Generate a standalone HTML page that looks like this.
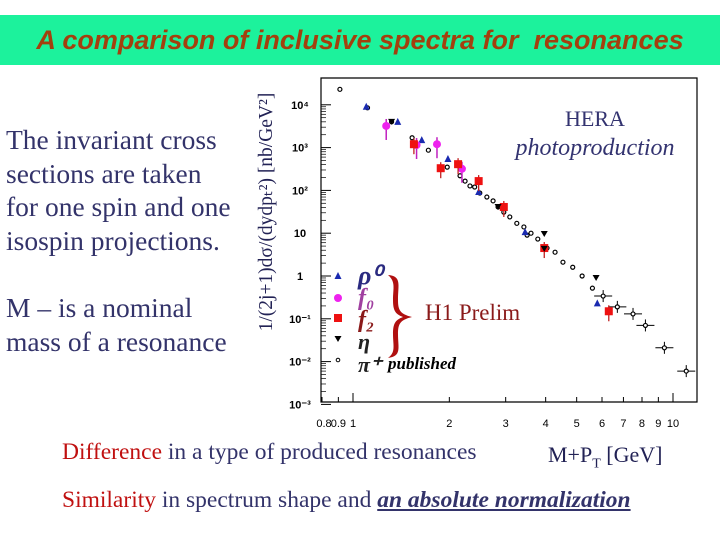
<!DOCTYPE html>
<html><head><meta charset="utf-8"><style>
body{margin:0;width:720px;height:540px;background:#fff;position:relative;overflow:hidden;font-family:"Liberation Serif",serif}
.t{position:absolute;color:#33336a;white-space:nowrap}
</style></head><body>
<div style="position:absolute;left:0;top:15px;width:720px;height:50px;background:#1cf29c"></div>
<div style="position:absolute;left:0;top:25px;width:720px;text-align:center;font:italic bold 27px 'Liberation Sans',sans-serif;color:#a3400e">A comparison of inclusive spectra for&nbsp; resonances</div>
<div class="t" style="left:6px;top:123px;font-size:27.5px;line-height:33.5px">The invariant cross<br>sections are taken<br>for one spin and one<br>isospin projections.</div>
<div class="t" style="left:6px;top:291px;font-size:27.5px;line-height:33.5px">M – is a nominal<br>mass of a resonance</div>
<div class="t" style="left:62px;top:439px;font-size:23.5px"><span style="color:#c01010">Difference</span> in a type of produced resonances</div>
<div class="t" style="left:548px;top:442px;font-size:22px;color:#222255">M+P<sub style="font-size:14px">T</sub> [GeV]</div>
<div class="t" style="left:62px;top:487px;font-size:23.5px"><span style="color:#c01010">Similarity</span> in spectrum shape and <b><i><u>an absolute normalization</u></i></b></div>
<svg id="chart" width="720" height="540" style="position:absolute;left:0;top:0"></svg>
<script>
const piX=[0.91,1.11,1.32,1.53,1.72,1.97,2.16,2.24,2.32,2.40,2.49,2.62,2.74,2.84,2.96,3.09,3.25,3.42,3.5,3.6,3.78,4.04,4.28,4.53,4.86,5.2,5.6,6.05,6.7,7.5,8.2,9.4,11.0];
const piY=[23000,8500,4000,1700,870,350,220,165,127,120,87,70,57,41,31,24,17,14,9,10,7.3,4.5,3.6,2.1,1.6,1.0,0.52,0.34,0.19,0.13,0.07,0.021,0.006];
const rhoX=[1.10,1.38,1.64,1.98,2.47,3.45,5.8];
const rhoY=[9000,4000,1500,540,92,10.6,0.23];
const f0X=[1.27,1.58,1.83,2.19];
const f0Y=[3200,1150,1200,320];
const f2X=[1.55,1.88,2.13,2.47,2.96,3.96,6.3];
const f2Y=[1200,330,410,165,41,4.5,0.15];
const etaX=[1.32,2.84,3.96,3.96,5.75];
const etaY=[4000,41,9.6,4.3,0.9];
const yTicks=["10⁴","10³","10²","10","1","10⁻¹","10⁻²","10⁻³"];
const xTickVals=[0.8,0.9,1,2,3,4,5,6,7,8,9,10];
const xTickLabels=["0.8","0.9","1","2","3","4","5","6","7","8","9","10"];
const svg=document.getElementById('chart');const NS='http://www.w3.org/2000/svg';
const X=v=>353+320*Math.log10(v), Y=v=>276-42.8*Math.log10(v);
function mk(t,a,p){const e=document.createElementNS(NS,t);for(const k in a)e.setAttribute(k,a[k]);(p||svg).appendChild(e);return e;}
let fr=mk('path',{d:'M321,78 H697 V402 H321 Z',fill:'none',stroke:'#000','stroke-width':1.2});


yTicks.forEach((s,i)=>{const y=Y(Math.pow(10,4-i));const t=mk('text',{x:300,y:y+4,'font-size':11,'font-family':'Liberation Sans','font-weight':'bold','text-anchor':'middle'});t.textContent=s;


mk('line',{x1:321,x2:331,y1:y,y2:y,stroke:'#000'});
for(let m=2;m<10&&i<7;m++){const yy=Y(Math.pow(10,3-i)*m);mk('line',{x1:321,x2:326,y1:yy,y2:yy,stroke:'#000','stroke-width':0.7});}});
xTickVals.forEach((v,i)=>{const x=X(v);mk('line',{x1:x,x2:x,y1:402,y2:v==1||v==10?393:397,stroke:'#000'});
const t=mk('text',{x:x+(i==0?2:0),y:427,'font-size':11,'font-family':'Liberation Sans','text-anchor':'middle'});t.textContent=xTickLabels[i];

});
const yt=mk('text',{transform:'translate(272,212) rotate(-90)','font-size':19.5,'font-family':'Liberation Serif','text-anchor':'middle',fill:'#222255'});
yt.textContent='1/(2j+1)dσ/(dydp\u209C²) [nb/GeV²]';


piX.forEach((v,i)=>{const x=X(v),y=Y(piY[i]);const g=mk('g',{});


if(v>6){mk('line',{x1:x-9,x2:x+9,y1:y,y2:y,stroke:'#000'},g);mk('line',{x1:x,x2:x,y1:y-6,y2:y+6,stroke:'#000'},g);}
mk('circle',{cx:x,cy:y,r:2,fill:'#fff',stroke:'#000','stroke-width':1.2},g);});
rhoX.forEach((v,i)=>{const x=X(v),y=Y(rhoY[i]);const p=mk('path',{d:`M${x-3.5},${y+3} L${x+3.5},${y+3} L${x},${y-4} Z`,fill:'#1a2ab0'});

});
f0X.forEach((v,i)=>{const x=X(v),y=Y(f0Y[i]);const g=mk('g',{});


mk('line',{x1:x,x2:x,y1:y-7,y2:y+14,stroke:'#c020c0','stroke-width':1.5},g);mk('circle',{cx:x,cy:y,r:4,fill:'#ee22ee'},g);});
f2X.forEach((v,i)=>{const x=X(v),y=Y(f2Y[i]);const g=mk('g',{});


mk('line',{x1:x,x2:x,y1:y-6,y2:y+10,stroke:'#c02020','stroke-width':1.3},g);mk('rect',{x:x-4,y:y-4,width:8,height:8,fill:'#ee1111'},g);});
etaX.forEach((v,i)=>{const x=X(v),y=Y(etaY[i]);const p=mk('path',{d:`M${x-3.5},${y-3} L${x+3.5},${y-3} L${x},${y+3} Z`,fill:'#000'});

});
const lg=[['tri','#1a2ab0',276],['circ','#ee22ee',298],['sq','#ee1111',318],['dtri','#000',339],['dot','#000',360]];
lg.forEach(([k,c,y])=>{const x=338;let e;
if(k=='tri')e=mk('path',{d:`M${x-3.5},${y+3} L${x+3.5},${y+3} L${x},${y-4} Z`,fill:c});
if(k=='circ')e=mk('circle',{cx:x,cy:y,r:4,fill:c});
if(k=='sq')e=mk('rect',{x:x-4,y:y-4,width:8,height:8,fill:c});
if(k=='dtri')e=mk('path',{d:`M${x-3.5},${y-3} L${x+3.5},${y-3} L${x},${y+3} Z`,fill:c});
if(k=='dot')e=mk('circle',{cx:x,cy:y,r:1.8,fill:'#fff',stroke:c});

});
const labs=[['ρ⁰','#2a2a80',284,26],['f₀','#a040a0',305,24],['f₂','#8a1a1a',327,24],['η','#222',349,22],['π⁺','#222',372,22]];
labs.forEach(([s,c,y,f])=>{const t=mk('text',{x:358,y:y,'font-size':f,'font-style':'italic','font-weight':'bold','font-family':'Liberation Serif',fill:c});t.textContent=s;

});
const br=mk('path',{d:'M388,275 C402,276 398,285 398,300 C398,310 400,314 412,317 C400,320 398,324 398,334 C398,348 402,356 388,358 C396,352 393,346 393,334 C393,324 395,320 403,317 C395,314 393,310 393,300 C393,288 396,282 388,275 Z',fill:'#b01010'});


const h1=mk('text',{x:425,y:320,'font-size':23,'font-family':'Liberation Serif',fill:'#8a1a1a'});h1.textContent='H1 Prelim';


const pub=mk('text',{x:388,y:369,'font-size':17,'font-style':'italic','font-weight':'bold','font-family':'Liberation Serif',fill:'#000'});pub.textContent='published';


const h=mk('text',{x:595,y:126,'font-size':22,'font-family':'Liberation Serif',fill:'#333370','text-anchor':'middle'});h.textContent='HERA';


const pp=mk('text',{x:595,y:155,'font-size':24,'font-style':'italic','font-family':'Liberation Serif',fill:'#333370','text-anchor':'middle'});pp.textContent='photoproduction';


</script>
</body></html>
